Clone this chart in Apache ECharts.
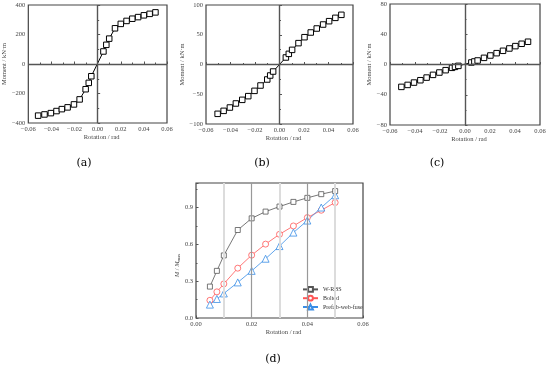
<!DOCTYPE html>
<html><head><meta charset="utf-8">
<script src="https://cdn.jsdelivr.net/npm/echarts@6/dist/echarts.min.js"></script>
<style>html,body{margin:0;padding:0;background:#fff}#c{width:550px;height:368px}</style>
</head><body><div id="c"></div>
<script>
// Panel (a) W-RBS
const rotA = [-0.0515,-0.046,-0.0405,-0.0356,-0.031,-0.026,-0.0205,-0.0156,-0.0104,-0.0077,-0.0055,0.005,0.0075,0.01,0.015,0.02,0.025,0.03,0.035,0.04,0.045,0.05];
const momA = [-350,-342,-333,-319,-306,-294,-274,-240,-171,-128,-83,85,130,172,242,272,292,307,318,330,340,350];
// Panel (b) Bolted
const rotB = [-0.0505,-0.0456,-0.0405,-0.0356,-0.0304,-0.0255,-0.0204,-0.0155,-0.010,-0.0076,-0.0052,0.0052,0.0076,0.0103,0.0155,0.0204,0.0255,0.0304,0.0356,0.0405,0.0456,0.0505];
const momB = [-82.9,-77.9,-72.3,-65.5,-59.4,-53.2,-44.3,-35.3,-25.2,-18.5,-11.8,11.8,17.9,24.6,35.9,45.9,53.8,60.5,67.2,72.8,78.4,83.5];
// Panel (c) Prefab-web-fuse
const rotC = [-0.0509,-0.0459,-0.0408,-0.0357,-0.0307,-0.0256,-0.0205,-0.0155,-0.0104,-0.008,-0.0053,0.0051,0.0075,0.0101,0.0152,0.0203,0.0253,0.0304,0.0355,0.0403,0.0453,0.0504];
const momC = [-29.6,-27,-23.9,-20.8,-17.3,-13.7,-10.6,-7.5,-4.4,-3.1,-1.8,2.65,4.0,5.3,8.8,11.9,15.0,18.1,21.2,24.3,27.4,30.1];
// Panel (d) normalized
const rotD = [0.005,0.0075,0.01,0.015,0.02,0.025,0.03,0.035,0.04,0.045,0.05];
const wrbsD = [0.256,0.384,0.51,0.717,0.812,0.867,0.908,0.946,0.979,1.009,1.034];
const boltedD = [0.144,0.213,0.278,0.406,0.512,0.602,0.682,0.75,0.818,0.878,0.941];
const prefabD = [0.109,0.155,0.2,0.29,0.384,0.483,0.586,0.696,0.794,0.9,1.0];
const seriesNames = ['W-RBS','Bolted','Prefab-web-fuse'];
const panelLabels = ['(a)','(b)','(c)','(d)'];
const xTitle = 'Rotation / rad';
const yTitleM = 'Moment / kN·m';

const FF = '"Liberation Serif", "Times New Roman", serif';
const fmtMinus = v => (v < 0 ? '\u2212' : '') + Math.abs(v);
const fmtX = v => (v < 0 ? '\u2212' : '') + Math.abs(v).toFixed(2);
const zip = (xs, ys) => xs.map((x, i) => [x, ys[i]]);

const chart = echarts.init(document.getElementById('c'));

const grids = [
  {left:21, top:5, width:146, height:118},
  {left:206, top:5, width:147, height:119},
  {left:390, top:4, width:150, height:121},
  {left:196, top:183, width:167, height:135}
].map(g => Object.assign(g, {show:true, borderColor:'#444', borderWidth:1.2, backgroundColor:'transparent'}));

const labelStyle = {fontFamily:FF, fontSize:6.5, color:'#444', margin:3};
function xAx(gi, min, max, interval, extra) {
  return Object.assign({
    type:'value', gridIndex:gi, min, max, interval,
    name:xTitle, nameLocation:'middle', nameGap:11,
    nameTextStyle:{fontFamily:FF, fontSize:6.5, color:'#444', padding:[0,0,0,8]},
    axisLine:{show:false},
    axisTick:{show:true, inside:true, length:2.5, lineStyle:{color:'#555'}},
    minorTick:{show:true, splitNumber:2, length:1.5, lineStyle:{color:'#555'}},
    axisLabel:Object.assign({formatter:fmtX}, labelStyle),
    splitLine:{show:false}
  }, extra || {});
}
function yAx(gi, min, max, interval, name, extra) {
  return Object.assign({
    type:'value', gridIndex:gi, min, max, interval,
    name, nameLocation:'middle', nameGap:12, nameRotate:90,
    nameTextStyle:{fontFamily:FF, fontSize:6.5, color:'#444'},
    axisLine:{show:false},
    axisTick:{show:true, inside:true, length:2.5, lineStyle:{color:'#555'}},
    minorTick:{show:true, splitNumber:2, length:1.5, lineStyle:{color:'#555'}},
    axisLabel:Object.assign({formatter:fmtMinus}, labelStyle),
    splitLine:{show:false}
  }, extra || {});
}

const zeroLines = {
  silent:true, symbol:'none', label:{show:false},
  lineStyle:{color:'#555', width:1.4, type:'solid'},
  data:[{xAxis:0},{yAxis:0}]
};

function hyst(name, gi, xs, ys) {
  return {
    type:'line', name, xAxisIndex:gi, yAxisIndex:gi, data:zip(xs, ys),
    symbol:'rect', symbolSize:5.5, showSymbol:true,
    lineStyle:{color:'#000', width:1},
    itemStyle:{color:'#fff', borderColor:'#000', borderWidth:1},
    markLine:zeroLines, z:3
  };
}

const option = {
  animation:false,
  backgroundColor:'#fff',
  grid:grids,
  xAxis:[
    xAx(0,-0.06,0.06,0.02),
    xAx(1,-0.06,0.06,0.02),
    xAx(2,-0.06,0.06,0.02),
    xAx(3,0,0.06,0.02)
  ],
  yAxis:[
    yAx(0,-400,400,200,yTitleM,{nameGap:14}),
    yAx(1,-100,100,50,yTitleM,{nameGap:14}),
    yAx(2,-80,80,40,yTitleM,{nameGap:12}),
    yAx(3,0,1.1,0.3,'{i|M} / {i|M}{s|max}',{
      nameGap:9,
      axisLabel:Object.assign({formatter:v => v.toFixed(1), showMaxLabel:false}, labelStyle),
      nameTextStyle:{fontFamily:FF, fontSize:6.5, color:'#444', padding:[0,30,0,0],
        rich:{i:{fontFamily:FF, fontSize:6.5, fontStyle:'italic', color:'#444'},
              s:{fontFamily:FF, fontSize:4.5, color:'#444', padding:[3,0,0,0]}}}
    })
  ],
  legend:{
    data:seriesNames, orient:'vertical', left:297, top:281,
    itemWidth:15, itemHeight:6, itemGap:2,
    textStyle:{fontFamily:FF, fontSize:6, color:'#333'}
  },
  series:[
    hyst('a', 0, rotA, momA),
    hyst('b', 1, rotB, momB),
    hyst('c', 2, rotC, momC),
    // vertical reference lines in (d)
    {type:'line', name:'grid-d', xAxisIndex:3, yAxisIndex:3, data:[], silent:true,
     markLine:{silent:true, symbol:'none', label:{show:false},
       data:[
         {xAxis:0.01, lineStyle:{color:'#dcdcdc', width:2, type:'solid'}},
         {xAxis:0.02, lineStyle:{color:'#999', width:1.2, type:'solid'}},
         {xAxis:0.03, lineStyle:{color:'#dcdcdc', width:2, type:'solid'}},
         {xAxis:0.04, lineStyle:{color:'#999', width:1.2, type:'solid'}},
         {xAxis:0.05, lineStyle:{color:'#dcdcdc', width:2, type:'solid'}}
       ]}, z:1},
    {type:'line', name:seriesNames[0], xAxisIndex:3, yAxisIndex:3, data:zip(rotD, wrbsD),
     symbol:'rect', symbolSize:5, lineStyle:{color:'#555', width:0.8},
     itemStyle:{color:'#fff', borderColor:'#555', borderWidth:0.8}, z:3},
    {type:'line', name:seriesNames[1], xAxisIndex:3, yAxisIndex:3, data:zip(rotD, boltedD),
     symbol:'circle', symbolSize:6, lineStyle:{color:'#ff5555', width:0.8},
     itemStyle:{color:'#fff', borderColor:'#ff5555', borderWidth:0.8}, z:3},
    {type:'line', name:seriesNames[2], xAxisIndex:3, yAxisIndex:3, data:zip(rotD, prefabD),
     symbol:'triangle', symbolSize:7, lineStyle:{color:'#3a8ee6', width:0.8},
     itemStyle:{color:'#fff', borderColor:'#3a8ee6', borderWidth:0.8}, z:3}
  ],
  graphic:[
    {type:'text', x:84, y:163, style:{text:panelLabels[0], font:'11px "DejaVu Serif"', fill:'#000', textAlign:'center', textVerticalAlign:'middle'}},
    {type:'text', x:262, y:163, style:{text:panelLabels[1], font:'11px "DejaVu Serif"', fill:'#000', textAlign:'center', textVerticalAlign:'middle'}},
    {type:'text', x:437, y:163, style:{text:panelLabels[2], font:'11px "DejaVu Serif"', fill:'#000', textAlign:'center', textVerticalAlign:'middle'}},
    {type:'text', x:273, y:359, style:{text:panelLabels[3], font:'11px "DejaVu Serif"', fill:'#000', textAlign:'center', textVerticalAlign:'middle'}}
  ]
};
chart.setOption(option);
</script>
</body></html>
